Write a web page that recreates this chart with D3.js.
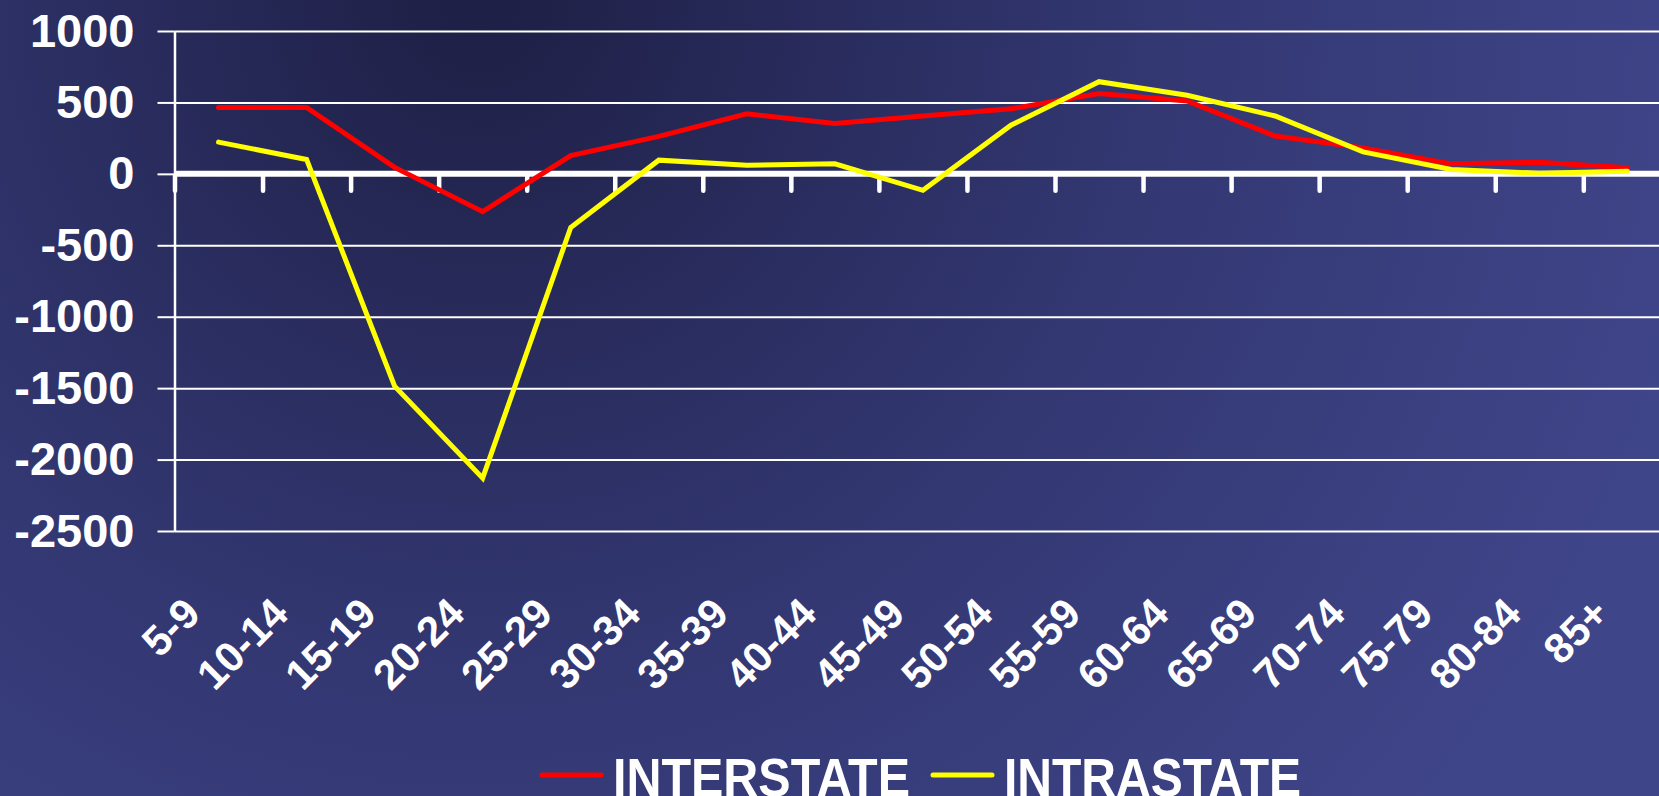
<!DOCTYPE html>
<html>
<head>
<meta charset="utf-8">
<script src="https://cdn.jsdelivr.net/npm/d3@7"></script>
<style>
  html, body { margin: 0; padding: 0; overflow: hidden; }
  svg { display: block; font-family: "Liberation Sans", Arial, sans-serif; font-weight: bold; }
</style>
</head>
<body>
<script>
const W = 1659, H = 796;

const ageGroups = ["5-9", "10-14", "15-19", "20-24", "25-29", "30-34", "35-39", "40-44", "45-49",
  "50-54", "55-59", "60-64", "65-69", "70-74", "75-79", "80-84", "85+"];
const interstate = [465, 465, 45, -265, 128, 262, 420, 352, 405, 455, 562, 510, 265, 182, 70, 82, 42];
const intrastate = [222, 101, -1486, -2130, -375, 96, 60, 70, -115, 341, 645, 550, 405, 154, 31, 4, 19];
const yTicks = [1000, 500, 0, -500, -1000, -1500, -2000, -2500];

const seriesList = [
  { name: "INTERSTATE", values: interstate, color: "#ff0000" },
  { name: "INTRASTATE", values: intrastate, color: "#ffff00" }
];

const left = 174.5, band = 88.05;

const svg = d3.select("body").append("svg")
  .attr("width", W).attr("height", H);

// background
const defs = svg.append("defs");
const grad = defs.append("radialGradient")
  .attr("id", "bg")
  .attr("gradientUnits", "userSpaceOnUse")
  .attr("cx", 480).attr("cy", 0).attr("r", 1250);
grad.append("stop").attr("offset", "0%").attr("stop-color", "#1e1f45");
grad.append("stop").attr("offset", "55%").attr("stop-color", "#333873");
grad.append("stop").attr("offset", "100%").attr("stop-color", "#3f4589");
svg.append("rect").attr("width", W).attr("height", H).attr("fill", "url(#bg)");

const x = d3.scaleBand()
  .domain(ageGroups)
  .range([left, left + band * ageGroups.length]);
const xEdge = d3.scaleLinear()
  .domain([0, ageGroups.length])
  .range([left, left + band * ageGroups.length]);
const y = d3.scaleLinear()
  .domain([-2500, 1000])
  .range([531, 31]);

// gridlines
svg.append("g")
  .attr("transform", `translate(${left},0)`)
  .call(d3.axisRight(y).tickValues(yTicks).tickSize(W - left).tickFormat(""))
  .call(g => g.select(".domain").remove())
  .call(g => g.selectAll(".tick line").attr("stroke", "#fff").attr("stroke-width", 2));

// y axis
svg.append("g")
  .attr("transform", `translate(${left},0)`)
  .call(d3.axisLeft(y).tickValues(yTicks).tickSize(17).tickPadding(23).tickSizeOuter(0)
    .tickFormat(d => String(d)))
  .call(g => g.select(".domain").attr("stroke", "#fff").attr("stroke-width", 2.5))
  .call(g => g.selectAll(".tick line").attr("stroke", "#fff").attr("stroke-width", 2))
  .call(g => g.selectAll(".tick text")
    .attr("fill", "#fff")
    .attr("font-size", 47)
    .attr("font-weight", "bold")
    .attr("font-family", "'Liberation Sans', Arial, sans-serif"));

// zero axis with ticks at band edges
svg.append("g")
  .attr("transform", `translate(0,${y(0)})`)
  .call(d3.axisBottom(xEdge).tickValues(d3.range(ageGroups.length + 1)).tickSize(0).tickFormat(""))
  .call(g => g.select(".domain").remove())
  .call(g => g.selectAll(".tick line")
    .attr("y1", 2).attr("y2", 17)
    .attr("stroke", "#fff").attr("stroke-width", 4.5).attr("stroke-linecap", "round"));
svg.append("line")
  .attr("x1", left).attr("x2", W)
  .attr("y1", y(0)).attr("y2", y(0))
  .attr("stroke", "#fff").attr("stroke-width", 6);

// x labels
svg.append("g")
  .selectAll("text")
  .data(ageGroups)
  .join("text")
    .attr("transform", d => `translate(${x(d) + x.bandwidth() / 2 - 16},616) rotate(-45)`)
    .attr("text-anchor", "end")
    .attr("fill", "#fff")
    .attr("font-size", 42)
    .text(d => d);

// lines
const line = d3.line()
  .x((d, i) => x(ageGroups[i]) + x.bandwidth() / 2)
  .y(d => y(d));

svg.append("g")
  .selectAll("path")
  .data(seriesList)
  .join("path")
    .attr("d", s => line(s.values))
    .attr("fill", "none")
    .attr("stroke", s => s.color)
    .attr("stroke-width", 5)
    .attr("stroke-linejoin", "miter")
    .attr("stroke-linecap", "round");

// legend
const legendX = [542, 933];
const legend = svg.append("g")
  .selectAll("g")
  .data(seriesList)
  .join("g")
    .attr("transform", (d, i) => `translate(${legendX[i]},775)`);
legend.append("line")
  .attr("x1", 0).attr("x2", 59)
  .attr("stroke", d => d.color).attr("stroke-width", 5).attr("stroke-linecap", "round");
legend.append("text")
  .attr("x", 71).attr("y", 21)
  .attr("fill", "#fff")
  .attr("font-size", 54)
  .attr("textLength", 297)
  .attr("lengthAdjust", "spacingAndGlyphs")
  .text(d => d.name);
</script>
</body>
</html>
